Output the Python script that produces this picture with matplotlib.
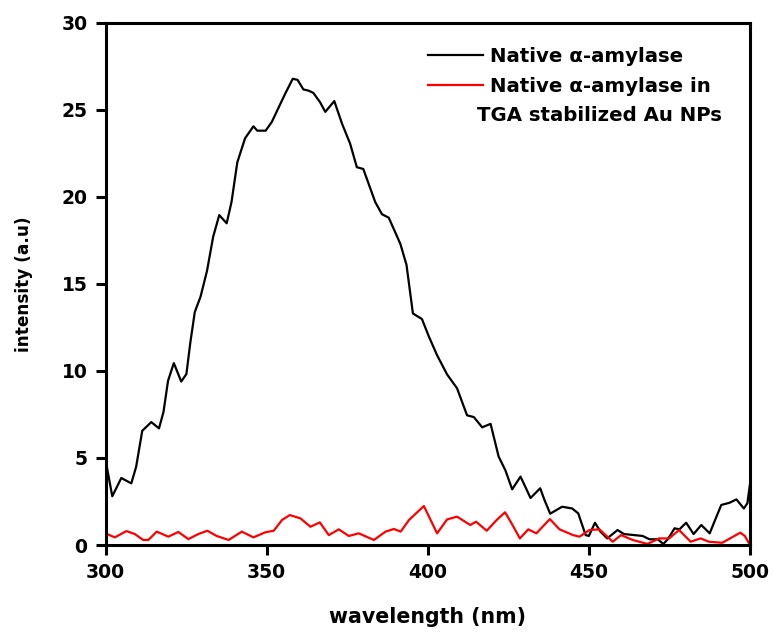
import matplotlib.pyplot as plt

plt.rcParams['font.family'] = ['DejaVu Sans']
plt.rcParams['font.weight'] = 'bold'

# Native alpha-amylase (black curve)
native_wl = [300.2, 302.1, 304.9, 308.0, 309.5, 311.4, 314.2, 316.6, 318.0, 319.4,
             321.2, 323.5, 325.1, 326.3, 327.7, 329.5, 331.5, 333.4, 335.3, 337.6,
             339.1, 340.9, 343.3, 345.9, 347.1, 349.7, 351.6, 353.6, 355.7, 358.1,
             359.6, 361.4, 363.0, 364.5, 366.6, 368.2, 371.0, 373.4, 375.9, 378.0,
             380.0, 383.7, 385.8, 387.9, 391.5, 393.4, 395.4, 398.2, 400.3, 402.9,
             406.0, 409.1, 412.2, 414.3, 416.9, 419.5, 422.0, 424.1, 426.2, 428.8,
             431.9, 434.9, 436.2, 438.0, 441.7, 444.8, 446.7, 449.0, 450.0, 451.9,
             453.6, 455.7, 458.9, 460.9, 464.1, 466.7, 468.8, 471.4, 473.1, 474.5,
             476.6, 478.1, 480.2, 482.5, 484.9, 487.5, 489.6, 491.1, 493.7, 495.8,
             498.1, 499.2, 500.0]
native_int = [4.7, 2.8, 3.85, 3.54, 4.49, 6.56, 7.06, 6.7, 7.65, 9.43,
              10.45, 9.39, 9.82, 11.6, 13.38, 14.27, 15.75, 17.7, 18.95, 18.48,
              19.7, 21.98, 23.36, 24.05, 23.8, 23.8, 24.3, 25.08, 25.9, 26.78,
              26.72, 26.17, 26.1, 25.97, 25.43, 24.88, 25.5, 24.2, 23.06, 21.7,
              21.6, 19.7, 19.0, 18.8, 17.3, 16.1, 13.3, 12.98, 12.0, 10.9,
              9.8, 9.0, 7.45, 7.35, 6.76, 6.96, 5.08, 4.29, 3.2, 3.93,
              2.7, 3.26, 2.6, 1.8, 2.2, 2.1, 1.82, 0.57, 0.52, 1.28,
              0.77, 0.38, 0.86, 0.63, 0.57, 0.52, 0.33, 0.33, 0.06, 0.33,
              0.96, 0.9, 1.28, 0.63, 1.15, 0.67, 1.63, 2.3, 2.43, 2.62,
              2.1, 2.4, 3.5]

# Native alpha-amylase in TGA stabilized Au NPs (red curve)
np_wl = [300.0, 302.9, 306.5, 309.1, 311.7, 313.3, 315.9, 319.5, 322.6, 325.7,
         328.8, 331.6, 334.5, 338.2, 342.3, 345.9, 349.6, 352.2, 354.8, 357.2,
         360.5, 363.6, 366.5, 369.3, 372.4, 375.5, 378.6, 383.3, 386.9, 389.5,
         391.6, 394.2, 398.8, 402.9, 406.0, 409.1, 413.2, 415.0, 418.3, 421.4,
         424.0, 426.0, 428.6, 431.2, 433.7, 437.9, 440.9, 445.1, 447.1, 450.2,
         453.3, 457.4, 460.0, 463.6, 468.2, 471.8, 474.9, 478.0, 481.6, 484.7,
         487.2, 491.4, 494.4, 497.0, 498.4, 500.0]
np_int = [0.67, 0.44, 0.8, 0.63, 0.29, 0.29, 0.77, 0.48, 0.75, 0.34,
          0.63, 0.82, 0.52, 0.29, 0.77, 0.44, 0.73, 0.82, 1.44, 1.72,
          1.53, 1.05, 1.3, 0.57, 0.9, 0.52, 0.67, 0.29, 0.77, 0.92,
          0.77, 1.44, 2.24, 0.67, 1.47, 1.63, 1.15, 1.34, 0.82, 1.44,
          1.88, 1.25, 0.38, 0.9, 0.67, 1.49, 0.9, 0.57, 0.48, 0.86,
          0.9, 0.19, 0.57, 0.29, 0.06, 0.38, 0.38, 0.86, 0.19, 0.38,
          0.19, 0.13, 0.44, 0.71, 0.52, 0.0]

fig = plt.figure(figsize=(7.73, 6.35), dpi=100)
ax = fig.add_axes([0.1365, 0.1417, 0.8337, 0.8225])

ax.plot(native_wl, native_int, color='black', lw=1.6, label='Native α-amylase')
ax.plot(np_wl, np_int, color='red', lw=1.6, label='Native α-amylase in')

ax.set_xlim(300, 500)
ax.set_ylim(0, 30)
ax.set_xticks([300, 350, 400, 450, 500])
ax.set_yticks([0, 5, 10, 15, 20, 25, 30])

for s in ax.spines.values():
    s.set_linewidth(2.2)
ax.tick_params(direction='out', length=7, width=2.2, labelsize=13.5, pad=6)

ax.set_xlabel('wavelength (nm)', fontsize=14.8, fontweight='bold')
ax.set_ylabel('intensity (a.u)', fontsize=12.2, fontweight='bold')
ax.xaxis.set_label_coords(0.4996, -0.118)
ax.yaxis.set_label_coords(-0.1125, 0.5)

# legend: handle lines start near the middle of the axes
leg = ax.legend(loc='upper left', bbox_to_anchor=(0.5004, 0.954), frameon=False,
                fontsize=14.2, handlelength=2.8, handletextpad=0.36,
                borderpad=0, borderaxespad=0, labelspacing=0.55)
# second line of the red label sits centred under its first line
ax.text(0.767, 0.823, 'TGA stabilized Au NPs', transform=ax.transAxes,
        ha='center', va='center', fontsize=14.2, fontweight='bold')

fig.savefig('out.png', dpi=100)
